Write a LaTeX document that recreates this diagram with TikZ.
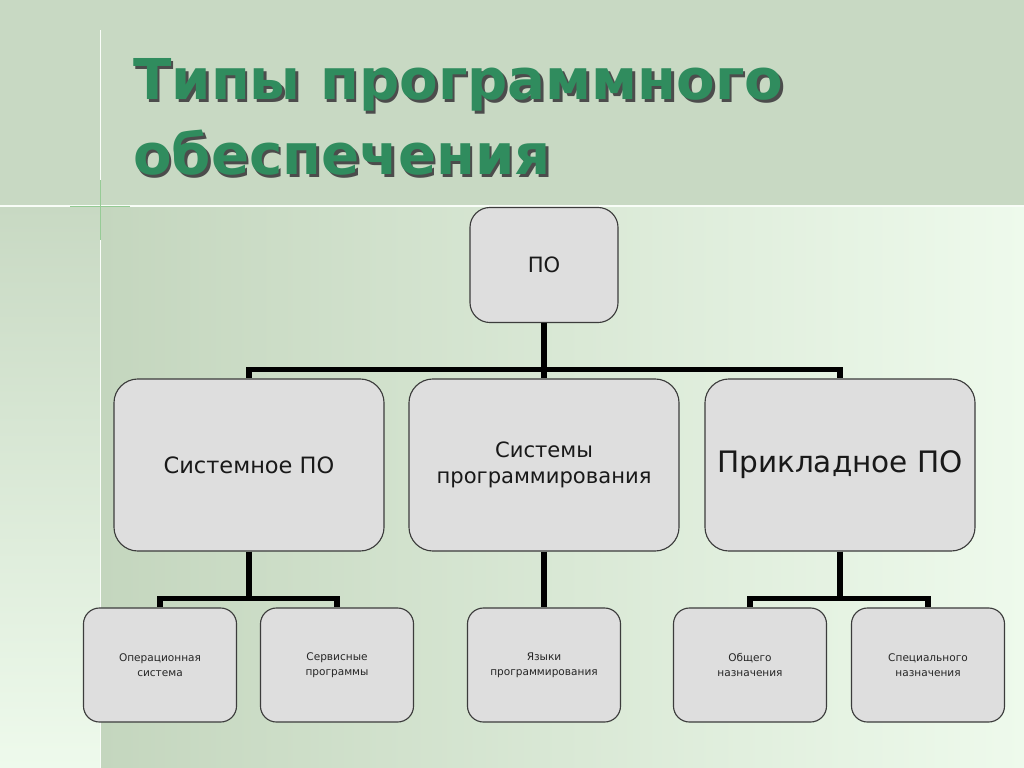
\documentclass[tikz,border=0pt]{standalone}
\usepackage{fontspec}
\setmainfont{DejaVu Sans}
\usepackage{tikz}
\definecolor{bandgreen}{RGB}{200,217,195}
\definecolor{leftgreen}{RGB}{196,214,190}
\definecolor{midgreen}{RGB}{214,231,209}
\definecolor{lightgreen}{RGB}{238,250,236}
\definecolor{titlegreen}{RGB}{48,140,94}
\definecolor{boxgray}{RGB}{222,222,222}
\definecolor{edgegray}{RGB}{60,60,60}

\begin{document}
\begin{tikzpicture}[x=0.025cm,y=-0.025cm,
  bigbox/.style={draw=edgegray,fill=boxgray,line width=0.8pt,rounded corners=0.6cm,minimum width=6.75cm,minimum height=4.3cm,align=center,text=black!90,font=\fontsize{15}{18}\selectfont},
  smallbox/.style={draw=edgegray,fill=boxgray,line width=0.8pt,rounded corners=0.4cm,minimum width=3.825cm,minimum height=2.85cm,align=center,text=black!85,font=\fontsize{7.5}{10.5}\selectfont},
  conn/.style={line width=3.6pt,black},
  titletext/.style={anchor=base west,inner sep=0pt,font=\fontsize{40}{48}\bfseries\selectfont}]
\useasboundingbox (0,0) rectangle (1024,768);
\fill[bandgreen] (0,0) rectangle (1024,206);
\shade[left color=leftgreen,middle color=midgreen,right color=lightgreen] (100,206) rectangle (1024,768);
\shade[top color=bandgreen,bottom color=lightgreen] (0,206) rectangle (100,768);
\draw[white!60!lightgreen,line width=1.2pt] (0,206) -- (1024,206);
\draw[white!70!lightgreen,line width=0.6pt] (100,30) -- (100,768);
\draw[green!50!black,opacity=0.4,line width=0.7pt] (70,206) -- (130,206) (100,180) -- (100,240);

\node[titletext,text=black!70] at (135.5,102.5) {Типы программного};
\node[titletext,text=titlegreen] (title1) at (133,100) {Типы программного};
\node[titletext,text=black!70] at (135.5,177.5) {обеспечения};
\node[titletext,text=titlegreen] (title2) at (133,175) {обеспечения};

\node[bigbox,minimum width=3.7cm,minimum height=2.875cm,rounded corners=0.5cm] (po) at (544,265) {ПО};
\node[bigbox,font=\fontsize{16}{19}\selectfont] (sys) at (249,465) {Системное ПО};
\node[bigbox] (prog) at (544,465) {Системы\\программирования};
\node[bigbox,font=\fontsize{21}{25}\selectfont] (app) at (840,465) {Прикладное ПО};

\node[smallbox] (os) at (160,665) {Операционная\\система};
\node[smallbox] (util) at (337,665) {Сервисные\\программы};
\node[smallbox] (lang) at (544,665) {Языки\\программирования};
\node[smallbox] (gen) at (750,665) {Общего\\назначения};
\node[smallbox] (spec) at (928,665) {Специального\\назначения};

\draw[conn] (po.south) -- ++(0,46) -| (sys.north);
\draw[conn] (po.south) -- (prog.north);
\draw[conn] (po.south) -- ++(0,46) -| (app.north);
\draw[conn] (sys.south) -- ++(0,47) -| (os.north);
\draw[conn] (sys.south) -- ++(0,47) -| (util.north);
\draw[conn] (prog.south) -- (lang.north);
\draw[conn] (app.south) -- ++(0,47) -| (gen.north);
\draw[conn] (app.south) -- ++(0,47) -| (spec.north);
\end{tikzpicture}
\end{document}
